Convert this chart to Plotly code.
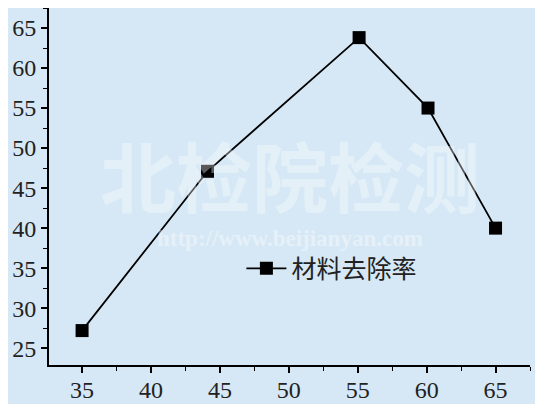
import plotly.graph_objects as go

x_vals = [35, 44.1, 55.1, 60.1, 65]
y_vals = [27.2, 47.1, 63.8, 55.0, 40.0]
series_name = "材料去除率"
x_ticks = [35, 40, 45, 50, 55, 60, 65]
y_ticks = [25, 30, 35, 40, 45, 50, 55, 60, 65]

SERIF = "Times New Roman, Liberation Serif, serif"

fig = go.Figure()
fig.add_trace(go.Scatter(
    x=x_vals, y=y_vals, mode="lines+markers", name=series_name,
    line=dict(color="black", width=1.8),
    marker=dict(symbol="square", size=13, color="black"),
))

axis_common = dict(
    showgrid=False, zeroline=False, showline=True, linecolor="black", linewidth=2,
    ticks="outside", ticklen=6, tickwidth=1.5, tickcolor="black",
    tickfont=dict(family=SERIF, size=24, color="#222"),
    minor=dict(ticks="outside", ticklen=4, tickwidth=1.2, tickcolor="black"),
    mirror=False, automargin=False,
)
fig.update_xaxes(range=[32.6, 67.5], tickvals=x_ticks, minor_dtick=2.5, ticklabelstandoff=-4, **axis_common)
fig.update_yaxes(range=[22.9, 67.5], tickvals=y_ticks, minor_dtick=2.5, **axis_common)

fig.add_annotation(x=0.5, y=0.535, xref="paper", yref="paper", text="<b>北检院检测</b>",
                   showarrow=False, font=dict(family="Noto Sans CJK SC", size=76, color="rgba(255,255,255,0.35)"))
fig.add_annotation(x=0.5, y=0.355, xref="paper", yref="paper", text="<b>http://www.beijianyan.com</b>",
                   showarrow=False, font=dict(family=SERIF, size=23, color="rgba(255,255,255,0.4)"))

fig.update_layout(
    width=535, height=396,
    margin=dict(l=41, r=13, t=0, b=39),
    paper_bgcolor="#d6e8f5", plot_bgcolor="#d6e8f5",
    showlegend=True,
    legend=dict(x=0.4, y=0.27, xanchor="left", yanchor="middle", bgcolor="rgba(0,0,0,0)",
                font=dict(family="Noto Sans CJK SC", size=25, color="#222"), itemwidth=40),
)

fig.write_html("out.html", config={"displayModeBar": False})
